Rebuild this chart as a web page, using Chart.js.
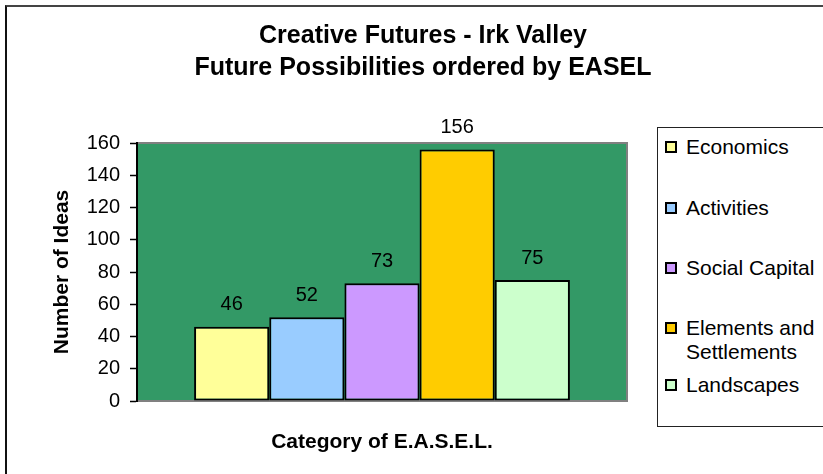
<!DOCTYPE html>
<html>
<head>
<meta charset="utf-8">
<script src="https://cdn.jsdelivr.net/npm/chart.js@4/dist/chart.umd.min.js"></script>
<style>
  html, body { margin: 0; padding: 0; background: #fff; width: 823px; height: 474px; overflow: hidden; }
  #wrap { position: relative; width: 823px; height: 474px; overflow: hidden; }
  #c { position: absolute; left: 0; top: 0; }
  #frame { position: absolute; left: 5px; top: 5px; width: 900px; height: 600px; border-left: 2px solid #111; border-top: 2px solid #444; }
  #legend { position: absolute; left: 657px; top: 127px; width: 200px; height: 298px; border: 1.5px solid #222; background: #fff; }
  .item { position: absolute; left: 0; font-family: 'Liberation Sans', Arial, sans-serif; font-size: 21px; line-height: 24px; color: #000; }
  .sw { position: absolute; left: 7px; top: 6px; width: 12px; height: 12px; box-sizing: border-box; border: 2px solid #000; }
  .tx { position: absolute; left: 28px; top: 0; width: 140px; white-space: normal; }
</style>
</head>
<body>
<div id="wrap">
  <div id="frame"></div>
  <canvas id="c" width="823" height="474"></canvas>
  <div id="legend"></div>
</div>
<script>
// ---- data ----
const titleLines = ['Creative Futures - Irk Valley', 'Future Possibilities ordered by EASEL'];
const categoryLabels = [''];
const seriesNames = ['Economics', 'Activities', 'Social Capital', 'Elements and Settlements', 'Landscapes'];
const seriesValues = [46, 52, 73, 156, 75];
const seriesColors = ['#FFFF99', '#99CCFF', '#CC99FF', '#FFCC00', '#CCFFCC'];
const yTicks = { min: 0, max: 160, step: 20 };
const yTitle = 'Number of Ideas';
const xTitle = 'Category of E.A.S.E.L.';

const FONT = "'Liberation Sans', Arial, sans-serif";

const datasets = seriesNames.map((name, i) => ({
  label: name,
  data: [seriesValues[i]],
  backgroundColor: seriesColors[i],
  borderColor: '#000',
  borderWidth: 2,
  borderSkipped: false,
  barPercentage: 1,
  categoryPercentage: 0.767
}));

const plotBg = {
  id: 'plotBg',
  beforeDraw(chart) {
    const { ctx, chartArea: a } = chart;
    ctx.save();
    ctx.fillStyle = '#339966';
    ctx.fillRect(a.left, a.top, a.right - a.left, a.bottom - a.top);
    ctx.strokeStyle = '#808080';
    ctx.lineWidth = 2;
    ctx.beginPath();
    ctx.moveTo(a.left, a.top);
    ctx.lineTo(a.right, a.top);
    ctx.lineTo(a.right, a.bottom);
    ctx.lineTo(a.left, a.bottom);
    ctx.stroke();
    ctx.restore();
  }
};

const valueLabels = {
  id: 'valueLabels',
  afterDatasetsDraw(chart) {
    const { ctx } = chart;
    ctx.save();
    ctx.font = '20px ' + FONT;
    ctx.fillStyle = '#000';
    ctx.textAlign = 'center';
    ctx.textBaseline = 'alphabetic';
    chart.data.datasets.forEach((ds, i) => {
      const meta = chart.getDatasetMeta(i);
      meta.data.forEach((bar, j) => {
        ctx.fillText(String(ds.data[j]), bar.x, bar.y - 16.5);
      });
    });
    ctx.restore();
  }
};

new Chart(document.getElementById('c'), {
  type: 'bar',
  data: { labels: categoryLabels, datasets },
  options: {
    responsive: false,
    animation: false,
    devicePixelRatio: 1,
    layout: { padding: { left: 23, right: 0, top: 0, bottom: 0 } },
    plugins: {
      legend: { display: false },
      tooltip: { enabled: false },
      title: {
        display: true,
        text: titleLines,
        color: '#000',
        font: { family: FONT, size: 25, weight: 'bold', lineHeight: 1.28 },
        padding: { top: 20, bottom: 59 }
      }
    },
    scales: {
      x: {
        ticks: { display: false },
        grid: { display: false },
        border: { display: false },
        title: {
          display: true,
          text: xTitle,
          color: '#000',
          font: { family: FONT, size: 21, weight: 'bold' },
          padding: { top: 0, bottom: 19 }
        },
        afterFit(scale) { scale.height = 73; }
      },
      y: {
        position: 'left',
        min: yTicks.min,
        max: yTicks.max,
        ticks: {
          stepSize: yTicks.step,
          color: '#000',
          padding: 10,
          font: { family: FONT, size: 20 }
        },
        grid: {
          drawOnChartArea: false,
          drawTicks: true,
          tickLength: 7,
          tickColor: '#000',
          tickWidth: 1.5
        },
        border: { display: true, color: '#000', width: 2 },
        title: {
          display: true,
          text: yTitle,
          color: '#000',
          font: { family: FONT, size: 21, weight: 'bold' },
          padding: { top: 27, bottom: 0 }
        },
        afterFit(scale) { scale.width = 114; }
      },
      y2: {
        position: 'right',
        type: 'linear',
        ticks: { display: false },
        grid: { display: false },
        border: { display: false },
        afterFit(scale) { scale.width = 196; }
      }
    }
  },
  plugins: [plotBg, valueLabels]
});

// HTML legend built from the series arrays
const legendTops = [7, 68, 128, 188, 245];
const legend = document.getElementById('legend');
seriesNames.forEach((name, i) => {
  const item = document.createElement('div');
  item.className = 'item';
  item.style.top = legendTops[i] + 'px';
  const sw = document.createElement('div');
  sw.className = 'sw';
  sw.style.background = seriesColors[i];
  const tx = document.createElement('div');
  tx.className = 'tx';
  tx.textContent = name;
  item.appendChild(sw);
  item.appendChild(tx);
  legend.appendChild(item);
});
</script>
</body>
</html>
